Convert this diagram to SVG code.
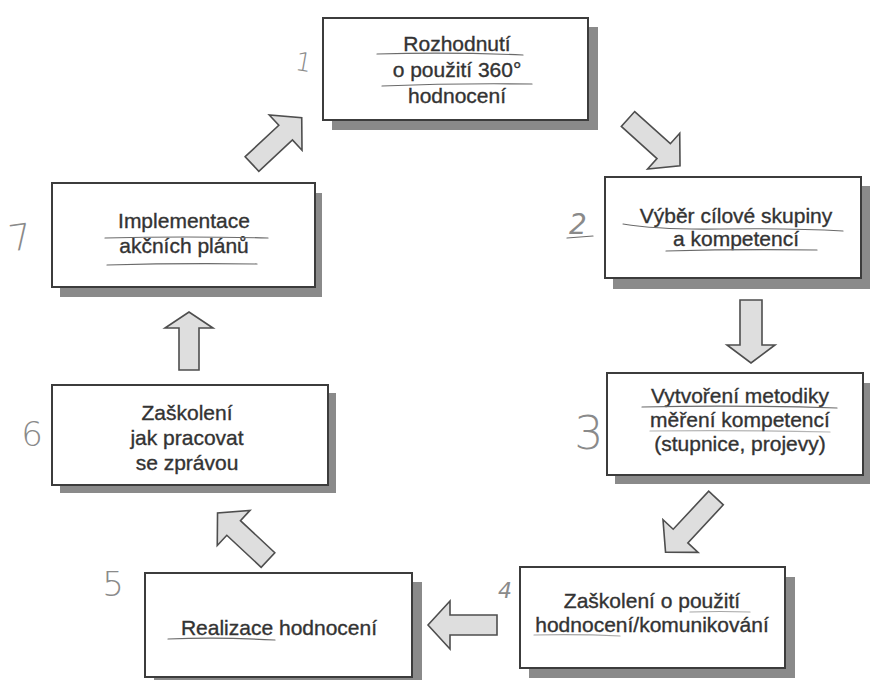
<svg xmlns="http://www.w3.org/2000/svg" width="870" height="680" viewBox="0 0 870 680">
  <style>
    .shadow { fill: #8a8a8a; }
    .box { fill: #ffffff; stroke: #3c3c3c; stroke-width: 2; }
    .label { font-family: "Liberation Sans", Arial, sans-serif; font-size: 21px; fill: #333333; stroke: #333333; stroke-width: 0.35; text-anchor: middle; }
    .num { font-family: "DejaVu Sans", "Liberation Sans", sans-serif; font-weight: 200; fill: #8a8a8a; text-anchor: middle; }
    .pen { fill: none; stroke: #6a6a6a; stroke-width: 1.2; stroke-linecap: round; }
    .arrow { fill: #dedede; stroke: #4e4e4e; stroke-width: 1.6; stroke-linejoin: miter; }
  </style>
  <rect width="870" height="680" fill="#ffffff"/>

  <!-- Step 1 -->
  <g id="node1">
    <rect class="shadow" x="332" y="27" width="266" height="103"/>
    <rect class="box" x="323" y="18" width="265" height="102"/>
    <text class="label" x="457" y="51">Rozhodnutí</text>
    <text class="label" x="457" y="77">o použití 360°</text>
    <text class="label" x="457" y="103">hodnocení</text>
    <path class="pen" d="M377,54 Q450,52 523,55"/>
    <path class="pen" d="M382,86 Q455,83 532,84"/>
    <text class="num" x="304" y="71" font-size="26" transform="rotate(10 304 60)">1</text>
  </g>

  <!-- Step 2 -->
  <g id="node2">
    <rect class="shadow" x="613" y="186" width="257" height="103"/>
    <rect class="box" x="605" y="177" width="256" height="101"/>
    <text class="label" x="736" y="223">Výběr cílové skupiny</text>
    <text class="label" x="736" y="246">a kompetencí</text>
    <path class="pen" d="M623,224 Q660,230 720,229 Q790,228 843,231"/>
    <path class="pen" d="M666,251 Q740,249 817,250"/>
    <text class="num" x="578" y="234" font-size="28" font-style="italic">2</text>
    <path class="pen" d="M567,238 L593,236"/>
  </g>

  <!-- Step 3 -->
  <g id="node3">
    <rect class="shadow" x="615" y="383" width="255" height="101"/>
    <rect class="box" x="607" y="373" width="256" height="102"/>
    <text class="label" x="740" y="403">Vytvoření metodiky</text>
    <text class="label" x="740" y="427">měření kompetencí</text>
    <text class="label" x="740" y="451">(stupnice, projevy)</text>
    <path class="pen" d="M642,407 Q740,405 837,408"/>
    <path class="pen" d="M650,431 Q740,430 830,432" stroke-opacity="0.5"/>
    <text class="num" x="589" y="449" font-size="46">3</text>
  </g>

  <!-- Step 4 -->
  <g id="node4">
    <rect class="shadow" x="529" y="577" width="266" height="101"/>
    <rect class="box" x="520" y="567" width="265" height="101"/>
    <text class="label" x="652" y="608">Zaškolení o použití</text>
    <text class="label" x="652" y="632">hodnocení/komunikování</text>
    <path class="pen" d="M690,612 Q720,611 750,612" stroke-opacity="0.6"/>
    <path class="pen" d="M534,635 Q580,634 620,636" stroke-opacity="0.6"/>
    <text class="num" x="505" y="598" font-size="22" font-style="italic">4</text>
  </g>

  <!-- Step 5 -->
  <g id="node5">
    <rect class="shadow" x="154" y="582" width="268" height="98"/>
    <rect class="box" x="145" y="573" width="267" height="104"/>
    <text class="label" x="279" y="635">Realizace hodnocení</text>
    <path class="pen" d="M168,639 Q220,637 275,640"/>
    <text class="num" x="113" y="596" font-size="34">5</text>
  </g>

  <!-- Step 6 -->
  <g id="node6">
    <rect class="shadow" x="60" y="393" width="276" height="100"/>
    <rect class="box" x="52" y="385" width="276" height="100"/>
    <text class="label" x="187" y="420">Zaškolení</text>
    <text class="label" x="187" y="445">jak pracovat</text>
    <text class="label" x="187" y="470">se zprávou</text>
    <text class="num" x="32" y="446" font-size="34">6</text>
  </g>

  <!-- Step 7 -->
  <g id="node7">
    <rect class="shadow" x="60" y="193" width="262" height="104"/>
    <rect class="box" x="52" y="183" width="263" height="104"/>
    <text class="label" x="184" y="228">Implementace</text>
    <text class="label" x="184" y="253">akčních plánů</text>
    <path class="pen" d="M105,238 Q185,236 268,238"/>
    <path class="pen" d="M107,265 Q180,263 257,264"/>
    <text class="num" x="20" y="250" font-size="36" transform="rotate(-8 20 237)">7</text>
  </g>

  <!-- Block arrows between steps (drawn along +x, then placed) -->
  <g id="connectors">
    <!-- 7 -> 1 -->
    <path class="arrow" transform="translate(252,164) rotate(-43)" d="M0,-10 H46 V-24 L68,0 L46,24 V10 H0 Z"/>
    <!-- 1 -> 2 -->
    <path class="arrow" transform="translate(628,119) rotate(42)" d="M0,-10 H48 V-24 L70,0 L48,24 V10 H0 Z"/>
    <!-- 2 -> 3 -->
    <path class="arrow" transform="translate(751,300) rotate(90)" d="M0,-11 H45 V-24 L63,0 L45,24 V11 H0 Z"/>
    <!-- 3 -> 4 -->
    <path class="arrow" transform="translate(716,498) rotate(133)" d="M0,-10 H52 V-24 L74,0 L52,24 V10 H0 Z"/>
    <!-- 4 -> 5 -->
    <path class="arrow" transform="translate(497,625) rotate(180)" d="M0,-10 H47 V-24 L69,0 L47,24 V10 H0 Z"/>
    <!-- 5 -> 6 -->
    <path class="arrow" transform="translate(268,560) rotate(223)" d="M0,-10 H47 V-24 L69,0 L47,24 V10 H0 Z"/>
    <!-- 6 -> 7 -->
    <path class="arrow" transform="translate(189,370) rotate(-90)" d="M0,-10 H42 V-24 L58,0 L42,24 V10 H0 Z"/>
  </g>
</svg>
